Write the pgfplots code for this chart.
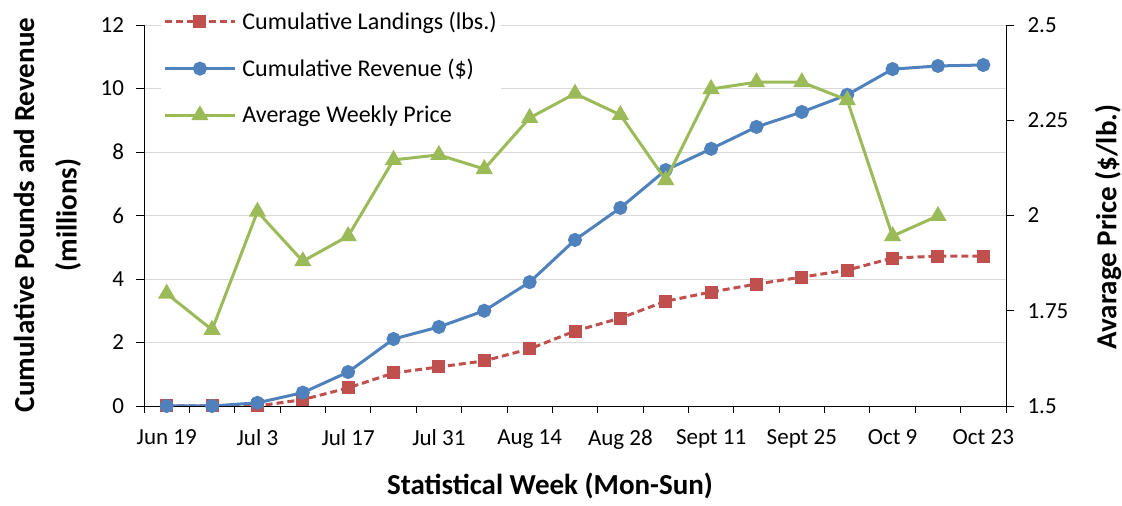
\documentclass[border=0pt]{standalone}
\usepackage{fontspec}
\setmainfont{Carlito}
\usepackage{pgfplots}
\pgfplotsset{compat=1.18}
\definecolor{cred}{HTML}{C0504D}
\definecolor{cblue}{HTML}{4F81BD}
\definecolor{cgreen}{HTML}{9BBB59}
\definecolor{cgrid}{HTML}{D9D9D9}
\begin{document}
\begin{tikzpicture}[x=1pt,y=1pt]
\pgfplotsset{
  every axis/.append style={
    scale only axis, width=862pt, height=381pt,
    xmin=-0.5, xmax=18.5,
    tick label style={font=\fontsize{23}{23}\selectfont},
    /pgf/number format/assume math mode=true,
    axis line style={black, line width=0.9pt},
    tick style={black, line width=0.9pt},
    tick align=outside,
    major tick length=8pt,
    minor tick length=7pt,
  },
  legend image code/.code={\draw[mark repeat=2,mark phase=2,#1] plot coordinates {(0pt,0pt)(35pt,0pt)(70pt,0pt)}; \path (74pt,0pt);},
}
\begin{axis}[
  at={(144pt,100pt)}, anchor=south west,
  axis x line*=bottom, axis y line*=left,
  ymin=0, ymax=12, ytick={0,2,...,12},
  yticklabels={0,2,4,6,8,10,12},
  ymajorgrids, grid style={cgrid, line width=0.8pt},
  xtick={0,2,...,18},
  xticklabels={Jun 19,Jul 3,Jul 17,Jul 31,Aug 14,Aug 28,Sept 11,Sept 25,Oct 9,Oct 23},
  minor xtick={-0.5,0.5,...,18.5},
  major x tick style={draw=none},
  xticklabel shift=12pt,
  yticklabel shift=8.5pt,
]
\addplot[cred, line width=3pt, dash pattern=on 7pt off 4pt, mark=square*, mark size=5pt, mark options={solid, fill=cred}] coordinates {
(0,0) (1,0) (2,0) (3,0.2) (4,0.57) (5,1.04) (6,1.23) (7,1.42) (8,1.8) (9,2.36) (10,2.77) (11,3.3) (12,3.59) (13,3.84) (14,4.06) (15,4.28) (16,4.66) (17,4.72) (18,4.72)};
\addplot[cblue, line width=3pt, mark=*, mark size=5.5pt, mark options={fill=cblue}] coordinates {
(0,0) (1,0) (2,0.1) (3,0.42) (4,1.07) (5,2.11) (6,2.49) (7,3.0) (8,3.9) (9,5.23) (10,6.24) (11,7.43) (12,8.1) (13,8.79) (14,9.26) (15,9.8) (16,10.61) (17,10.71) (18,10.74)};
\end{axis}
\begin{axis}[
  at={(144pt,100pt)}, anchor=south west,
  axis x line=none, axis y line*=right,
  ymin=1.5, ymax=2.5, ytick={1.5,1.75,2,2.25,2.5},
  yticklabels={1.5,1.75,2,2.25,2.5},
  yticklabel shift=10pt,
  legend style={at={(rel axis cs:0.020,1.045)}, anchor=north west, draw=none, fill=white,
    font=\fontsize{24}{24}\selectfont, row sep=24pt, inner sep=2pt},
  legend cell align=left,
]
\addlegendimage{cred, line width=3pt, dash pattern=on 7pt off 4pt, mark=square*, mark size=5pt, mark options={solid, fill=cred}}
\addlegendentry{Cumulative Landings (lbs.)}
\addlegendimage{cblue, line width=3pt, mark=*, mark size=5.5pt, mark options={fill=cblue}}
\addlegendentry{Cumulative Revenue (\$)}
\addplot[cgreen, line width=3pt, mark=triangle*, mark size=7pt, mark options={fill=cgreen}] coordinates {
(0,1.795) (1,1.70) (2,2.01) (3,1.88) (4,1.946) (5,2.146) (6,2.159) (7,2.122) (8,2.256) (9,2.32) (10,2.264) (11,2.093) (12,2.332) (13,2.35) (14,2.35) (15,2.303) (16,1.946) (17,1.999)};
\addlegendentry{Average Weekly Price}
\end{axis}
\node[rotate=90, font=\fontsize{29}{29}\selectfont\bfseries] at (24,291) {Cumulative Pounds and Revenue};
\node[rotate=90, font=\fontsize{29}{29}\selectfont\bfseries] at (68,291) {(millions)};
\node[rotate=90, font=\fontsize{29}{29}\selectfont\bfseries] at (1108,279) {Avarage Price (\$/lb.)};
\node[font=\fontsize{29}{29}\selectfont\bfseries] at (550,20) {Statistical Week (Mon-Sun)};
\pgfresetboundingbox
\useasboundingbox (0,0) rectangle (1122,506);
\end{tikzpicture}
\end{document}
